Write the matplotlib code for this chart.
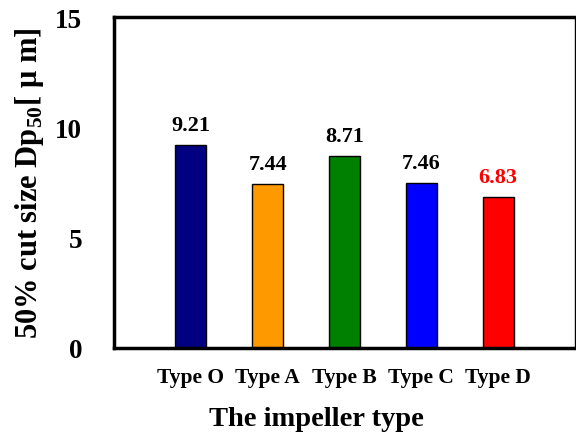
import matplotlib.pyplot as plt

# data
types = ["Type O", "Type A", "Type B", "Type C", "Type D"]
dp50 = [9.21, 7.44, 8.71, 7.46, 6.83]
colores = ["#000080", "#FF9900", "#008000", "#0000FF", "#FF0000"]
color_texto = ["black", "black", "black", "black", "red"]

plt.rcParams['font.family'] = ['Liberation Serif', 'DejaVu Serif']
plt.rcParams['font.weight'] = 'bold'
plt.rcParams['mathtext.fontset'] = 'custom'
plt.rcParams['mathtext.bf'] = 'Liberation Serif:bold'
plt.rcParams['mathtext.rm'] = 'Liberation Serif:bold'

fig = plt.figure(figsize=(5.76, 4.39), dpi=100)
ax = fig.add_axes([114/576, 1-349/439, 461/576, 331/439])

x = list(range(len(types)))
ax.bar(x, dp50, width=0.4, color=colores, edgecolor="black", linewidth=1)

for xi, v, c in zip(x, dp50, color_texto):
    ax.text(xi, v + 0.45, "{:.2f}".format(v), ha="center", va="bottom",
            fontsize=16, fontweight="bold", color=c)

ax.set_xlim(-1, 5)
ax.set_ylim(0, 15)
ax.set_yticks([0, 5, 10, 15])
ax.set_xticks(x)
ax.set_xticklabels(types, fontsize=15.5, fontweight="bold")
ax.tick_params(axis="x", length=0, pad=14)
ax.tick_params(axis="y", length=0, pad=23, labelsize=19.5)
for lab in ax.get_yticklabels():
    lab.set_fontweight("bold")

for s in ["left", "top", "bottom"]:
    ax.spines[s].set_linewidth(2.5)
ax.spines["right"].set_linewidth(1)

# etiquetas de los ejes
fig.text(316/576, 1-420/439, "The impeller type", fontsize=20.5, fontweight="bold",
         ha="center", va="center")
fig.text(30/576, 1-183/439, "50% cut size Dp$_{\\mathbf{50}}$[ μ m]", fontsize=22,
         fontweight="bold", rotation=90, ha="center", va="center")

fig.savefig("out.png", dpi=100)
